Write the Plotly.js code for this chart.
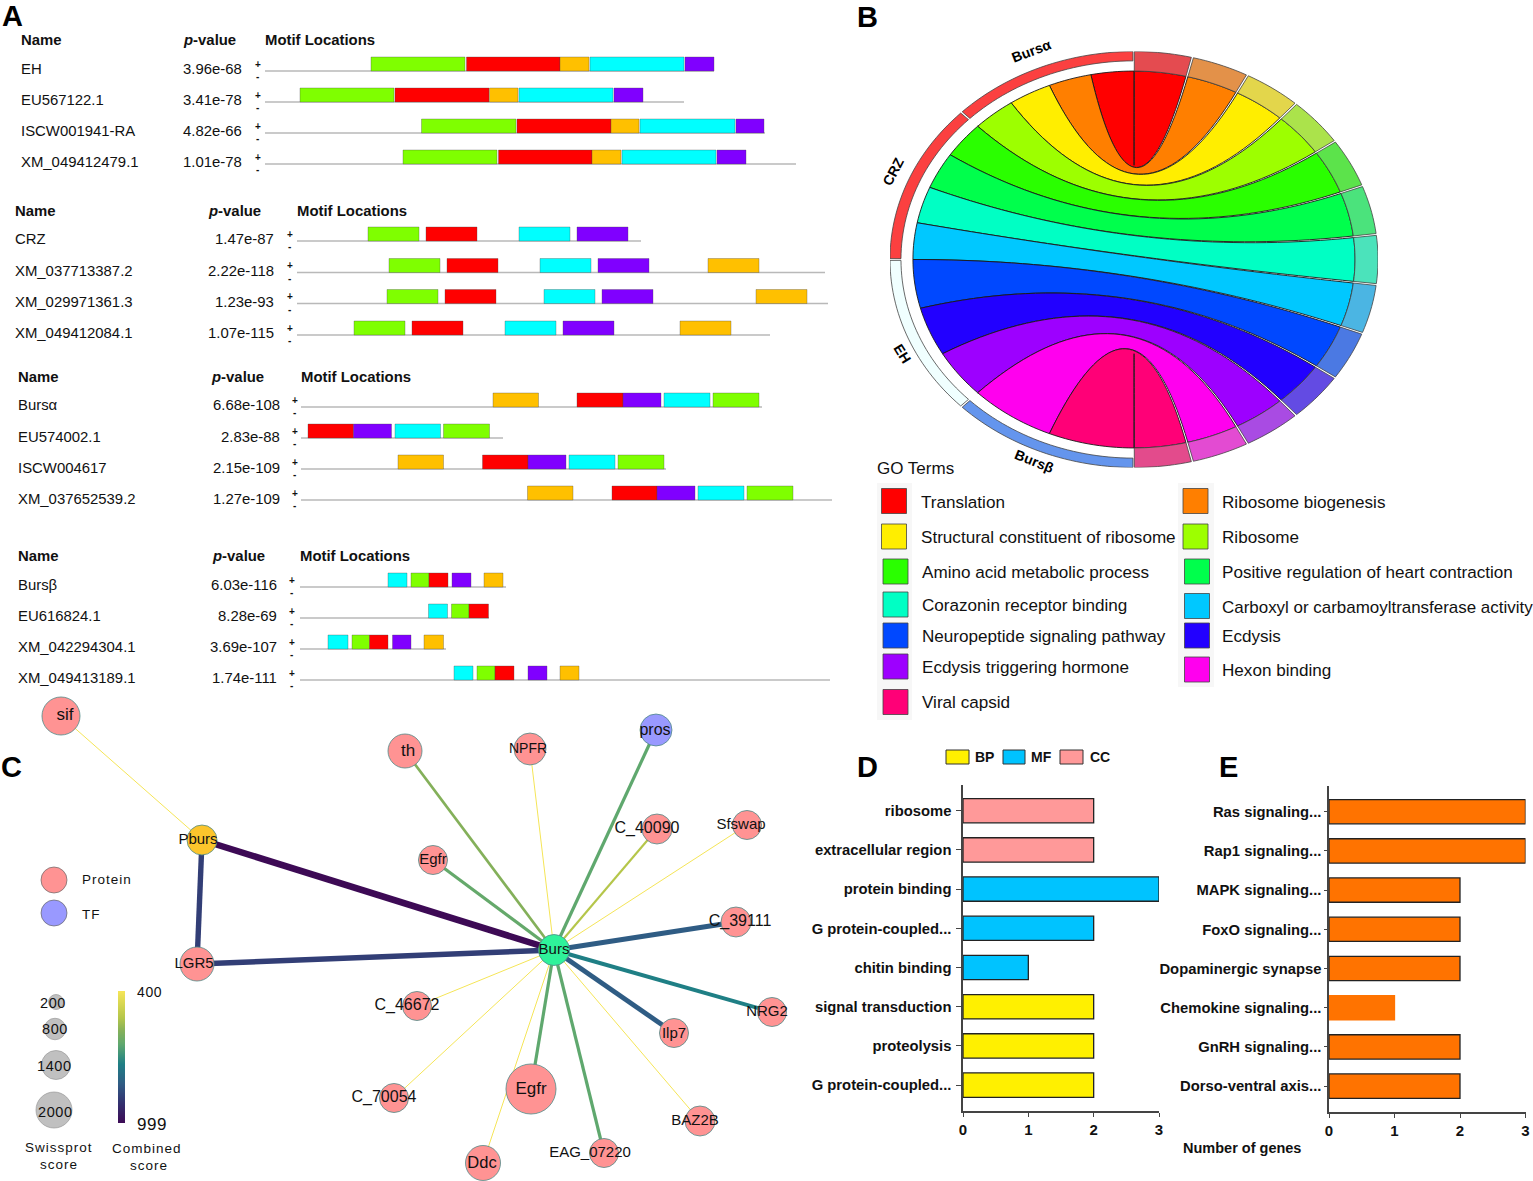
<!DOCTYPE html>
<html><head><meta charset="utf-8">
<script src="https://cdn.plot.ly/plotly-3.0.1.min.js"></script>
<style>html,body{margin:0;padding:0;background:#fff}#chart{width:1533px;height:1181px}</style>
</head><body><div id="chart"></div>
<script>
// ---------- Panel A data ----------
const seqNames=['EH','EU567122.1','ISCW001941-RA','XM_049412479.1','CRZ','XM_037713387.2','XM_029971361.3','XM_049412084.1','Bursα','EU574002.1','ISCW004617','XM_037652539.2','Bursβ','EU616824.1','XM_042294304.1','XM_049413189.1'];
const seqPvalues=['3.96e-68','3.41e-78','4.82e-66','1.01e-78','1.47e-87','2.22e-118','1.23e-93','1.07e-115','6.68e-108','2.83e-88','2.15e-109','1.27e-109','6.03e-116','8.28e-69','3.69e-107','1.74e-111'];
const seqStart=[265,265,265,265,297,297,297,297,301,301,301,301,300,300,300,300];
const seqEnd=[714,684,765,796,641,825,828,770,762,503,666,832,506,489,446,830];
const seqMotifs=[
 [['G',371,465],['R',466.5,560],['O',560,589],['C',590,684],['P',685,714]],
 [['G',300,394],['R',395,489],['O',489.5,518],['C',519,613],['P',614,643]],
 [['G',421.5,516],['R',517,611],['O',611,639],['C',640,735],['P',736,764]],
 [['G',403,497],['R',498.5,592],['O',592,621],['C',622,716],['P',717,746]],
 [['G',368,419],['R',426,477],['C',519,570],['P',577,628]],
 [['G',389,440],['R',447,498],['C',540,591],['P',598,649],['O',708,759]],
 [['G',387,438],['R',445,496],['C',544,595],['P',602,653],['O',756,807]],
 [['G',354,405],['R',412,463],['C',505,556],['P',563,614],['O',680,731]],
 [['O',493,538.5],['R',577,623],['P',623,661],['C',664,710],['G',713,759]],
 [['R',308,353.5],['P',353.5,391.5],['C',395,440.5],['G',443.5,489.5]],
 [['O',398,443.5],['R',482.5,528],['P',528,566],['C',569,615],['G',618,664]],
 [['O',527.5,573],['R',612,657],['P',657,695],['C',698,744],['G',747,793]],
 [['C',388,407],['G',411,429],['R',429,448],['P',452,471],['O',484,503]],
 [['C',428.5,447.5],['G',451.5,469],['R',469,488.5]],
 [['C',328,348],['G',352,369.5],['R',369.5,388],['P',392.5,411],['O',424,443.5]],
 [['C',454,473],['G',477,495],['R',495,514],['P',528,547],['O',560,579]]
];
// ---------- Panel B data ----------
const goTerms=['Translation','Ribosome biogenesis','Structural constituent of ribosome','Ribosome','Amino acid metabolic process','Positive regulation of heart contraction','Corazonin receptor binding','Carboxyl or carbamoyltransferase activity','Neuropeptide signaling pathway','Ecdysis','Ecdysis triggering hormone','Hexon binding','Viral capsid'];
const chordGenes=['Bursα','CRZ','EH','Bursβ'];
const genesTermCount=[4,4,3,2];
// ---------- Panel C data ----------
const nodeNames=['sif','Pburs','LGR5','Burs','th','NPFR','pros','C_40090','Sfswap','Egfr','C_39111','NRG2','Ilp7','BAZ2B','EAG_07220','Egfr','Ddc','C_70054','C_46672'];
const nodeSwissprot=[2170,1480,1825,1570,1825,1650,1650,1480,1400,1400,1480,1400,1400,1480,1400,3200,1910,1400,1400];
const edgeFrom=[0,1,1,2,3,3,3,3,3,3,3,3,3,3,3,3,3,3,3];
const edgeTo=[1,3,2,3,4,5,6,7,8,9,10,11,12,13,14,15,16,17,18];
const edgeScore=[400,999,880,880,580,400,640,520,400,630,820,730,820,400,640,640,400,400,400];
const swissLegend=[200,800,1400,2000];
const scoreScale=[400,450,500,550,600,650,700,750,800,850,900,950,999];
// ---------- Panels D/E data ----------
const goCats=['ribosome','extracellular region','protein binding','G protein-coupled...','chitin binding','signal transduction','proteolysis','G protein-coupled...\u200b'];
const goCounts=[2,2,3,2,1,2,2,2];
const goClass=['CC','CC','MF','MF','MF','BP','BP','BP'];
const keggCats=['Ras signaling...','Rap1 signaling...','MAPK signaling...','FoxO signaling...','Dopaminergic synapse','Chemokine signaling...','GnRH signaling...','Dorso-ventral axis...'];
const keggCounts=[3,3,2,2,2,1,2,2];

// ---------- Layout & style (positions) ----------
const W=1533,H=1181;
const FONT='"Liberation Sans",Arial,sans-serif';
const motifColor={G:'#7fff00',R:'#ff0000',O:'#ffc000',C:'#00ffff',P:'#8000ff'};
const rowBase=[71,102,133,164,241,272.5,303.5,335,407,438,469,500,587,618,649,680];
const rowText=[68.5,100,131,162,239.5,271,302,333,405,436.5,467.5,498.5,584.5,616,647,678];
const groupName=[21,15,18,18], groupPRight=[242,274,280,277], groupSign=[258,290,295,292];
const headerY=[40,211,377,556], headerP=[183,208,211,212], headerM=[265,297,301,300];
const termColors=['#ff0000','#ff7f00','#ffee00','#9dff00','#2aff00','#00ff4c','#00ffc4','#00c8ff','#0048ff','#2200ff','#9d00ff','#ff00ee','#ff0077'];
const ringColors=['#e44b50','#e39149','#e3d64b','#abe34b','#5ce34b','#4be37c','#4be3bb','#4bb5e3','#4b79e3','#634be3','#a94be3','#e34bd2','#e34b8c'];
const geneColors=['#fb4040','#fb4040','#f0ffff','#6495ed'];
const nodeFill=['#ff9393','#fcc52c','#ff9393','#2ff29a','#ff9393','#ff9393','#9999ff','#ff9393','#ff9393','#ff9393','#ff9393','#ff9393','#ff9393','#ff9393','#ff9393','#ff9393','#ff9393','#ff9393','#ff9393'];
const nodeX=[61,202,197,554,405,530,656,657,747,433,736,772,674,700,604,531,483,394,417];
const nodeY=[716,840,964,950,751,749,730,829,825,860,922,1012,1033,1121,1153,1089,1163,1098,1006];
const labelX=[65,198,194,554,408,528,655,647,741,433,740,767,674,695,590,531,482,384,407];
const labelY=[716,840,964,950,752,749,731,829,825,860,922,1012,1034,1121,1153,1090,1164,1098,1006];
const labelSize=[17,15,15,15,17,14,16,16,15,15,16,15,15,15,15,17,16.5,16,16];
const viridisStops=[[0,'#f5e557'],[0.2,'#b5c64a'],[0.3,'#84b05a'],[0.4,'#5fa86e'],[0.55,'#1f7f85'],[0.7,'#2f5c84'],[0.85,'#33306f'],[1,'#3d0a55']];

const px=x=>x/W, py=y=>1-y/H;
const annotations=[];
function note(x,y,text,o){o=o||{};annotations.push({xref:'paper',yref:'paper',x:px(x),y:py(y),text:text,showarrow:false,xanchor:o.a||'left',yanchor:'middle',
 textangle:o.rot||0,font:{family:FONT,size:o.size||14,color:o.color||'#111'},align:o.align||'left',borderpad:0,borderwidth:0});}
const traces=[];
const shapes=[];

// --- panel letters
[['A',12,16],['B',867,17],['C',11,767],['D',867,767],['E',1228,767]].forEach(l=>note(l[1],l[2],'<b>'+l[0]+'</b>',{size:29,a:'center',color:'#000'}));

// --- panel A
const grp=i=>Math.floor(i/4);
traces.push({type:'bar',orientation:'h',xaxis:'x',yaxis:'y',y:rowBase,base:seqStart,x:seqEnd.map((e,i)=>e-seqStart[i]),width:1.4,marker:{color:'#b9b9b9',line:{width:0}},hoverinfo:'skip',showlegend:false});
const mY=[],mB=[],mX=[],mC=[];
seqMotifs.forEach((row,i)=>row.forEach(m=>{mY.push(rowBase[i]-7);mB.push(m[1]);mX.push(m[2]-m[1]);mC.push(motifColor[m[0]]);}));
traces.push({type:'bar',orientation:'h',xaxis:'x',yaxis:'y',y:mY,base:mB,x:mX,width:14,marker:{color:mC,line:{color:'rgba(70,70,70,0.55)',width:0.6}},hoverinfo:'skip',showlegend:false});
seqNames.forEach((n,i)=>{const g=grp(i);
 note(groupName[g],rowText[i],n,{size:14.9});
 note(groupPRight[g],rowText[i],seqPvalues[i],{size:14.9,a:'right'});
 note(groupSign[g]-0.5,rowBase[i]-6.5,'<b>+</b>',{size:10,a:'center'});
 note(groupSign[g]-0.5,rowBase[i]+5.5,'<b>-</b>',{size:10,a:'center'});
});
headerY.forEach((y,g)=>{
 note(groupName[g],y,'<b>Name</b>',{size:14.9});
 note(headerP[g],y,'<b><i>p</i>-value</b>',{size:14.9});
 note(headerM[g],y,'<b>Motif Locations</b>',{size:14.9});
});

// --- panel B : chord diagram on a unit circle
const deg=Math.PI/180;
const pol=(a,r)=>[r*Math.sin(a*deg),r*Math.cos(a*deg)];
function arc(a0,a1,r){const n=Math.max(2,Math.ceil(Math.abs(a1-a0)/1.5)),o=[];for(let i=0;i<=n;i++)o.push(pol(a0+(a1-a0)*i/n,r));return o;}
function bez(p0,p2){const o=[];for(let i=1;i<40;i++){const t=i/40,k=(1-t)*(1-t),m=t*t;o.push([k*p0[0]+m*p2[0],k*p0[1]+m*p2[1]]);}return o;}
function poly(pts,fill,line,lw){traces.push({type:'scatter',mode:'lines',xaxis:'x2',yaxis:'y2',x:pts.map(p=>p[0]).concat([pts[0][0]]),y:pts.map(p=>p[1]).concat([pts[0][1]]),fill:'toself',fillcolor:fill,line:{color:line,width:lw,simplify:false},hoverinfo:'skip',showlegend:false});}
const nT=goTerms.length, rIn=0.906, gap=0.25;
const leftEdge=[0];
genesTermCount.forEach((c,g)=>{for(let i=0;i<c;i++)leftEdge.push(leftEdge[leftEdge.length-1]+45/c);});
goTerms.forEach((t,i)=>{
 const a0=i*180/nT+gap*(i?1:0.3), a1=(i+1)*180/nT-gap*(i<nT-1?1:0.3);
 const b0=-leftEdge[i], b1=-leftEdge[i+1];
 const top=arc(a0,a1,rIn), c1=bez(pol(a1,rIn),pol(b1,rIn)), l=arc(b1,b0,rIn), c2=bez(pol(b0,rIn),pol(a0,rIn));
 poly(top.concat(c1,l,c2),termColors[i],'#1a1a1a',0.9);
 poly(arc(a0,a1,1).concat(arc(a1,a0,rIn)),ringColors[i],'#444',0.8);
});
let ga=0;
chordGenes.forEach((g,i)=>{
 const a0=-(ga+0.25),a1=-(ga+45-0.25);ga+=45;
 poly(arc(a0,a1,1).concat(arc(a1,a0,0.955)),geneColors[i],'#444',0.8);
});
note(1031,51,'<b>Bursα</b>',{size:14,a:'center',rot:-21,color:'#000'});
note(893,172,'<b>CRZ</b>',{size:14,a:'center',rot:-62,color:'#000'});
note(902,353,'<b>EH</b>',{size:14,a:'center',rot:58,color:'#000'});
note(1034,461,'<b>Bursβ</b>',{size:14,a:'center',rot:22,color:'#000'});
note(877,469,'GO Terms',{size:17});
// legend keys
shapes.push({type:'rect',xref:'x',yref:'y',layer:'below',x0:877,x1:912,y0:483,y1:720,fillcolor:'#f7f7f7',line:{width:0}});
shapes.push({type:'rect',xref:'x',yref:'y',layer:'below',x0:1178,x1:1214,y0:483,y1:687,fillcolor:'#f7f7f7',line:{width:0}});
const keyX=[894,1195.5,894,1195.5,895.5,1197,895.5,1197,895.5,1197,895.5,1197,895.5];
const keyY=[501,501,536.5,536.5,571.5,571.5,604.5,606,635.5,635.5,666.5,669.5,702];
const keyTextX=[921,1222,921,1222,922,1222,922,1222,922,1222,922,1222,922];
const keyTextY=[502,502,537,537,572,572,605,607,636,636,667,670,703];
const keyTextSize=[17.1,17.1,17.1,17.1,17.1,17.1,17.1,16.95,17.1,17.1,17.1,17.1,17.1];
traces.push({type:'scatter',mode:'markers',xaxis:'x',yaxis:'y',x:keyX,y:keyY,marker:{symbol:'square',size:25,color:termColors,opacity:1,line:{color:'#444',width:0.8}},hoverinfo:'skip',showlegend:false});
goTerms.forEach((t,i)=>note(keyTextX[i],keyTextY[i],t,{size:keyTextSize[i]}));

// --- panel C
function lerpHex(a,b,t){const p=h=>[1,3,5].map(k=>parseInt(h.substr(k,2),16));const A=p(a),B=p(b);return 'rgb('+A.map((v,i)=>Math.round(v+(B[i]-v)*t)).join(',')+')';}
function scoreColor(s){const t=(s-400)/599;for(let i=1;i<viridisStops.length;i++){if(t<=viridisStops[i][0]){const a=viridisStops[i-1],b=viridisStops[i];return lerpHex(a[1],b[1],(t-a[0])/(b[0]-a[0]));}}return viridisStops[viridisStops.length-1][1];}
edgeScore.forEach((s,i)=>{const a=edgeFrom[i],b=edgeTo[i];
 traces.push({type:'scatter',mode:'lines',xaxis:'x',yaxis:'y',x:[nodeX[a],nodeX[b]],y:[nodeY[a],nodeY[b]],line:{color:scoreColor(s),width:1+5.5*(s-400)/599},hoverinfo:'skip',showlegend:false});
});
const dia=s=>12.7+0.01167*s;
traces.push({type:'scatter',mode:'markers',xaxis:'x',yaxis:'y',x:nodeX,y:nodeY,marker:{size:nodeSwissprot.map(dia),color:nodeFill,opacity:1,line:{color:'#4f8a88',width:0.8}},hoverinfo:'skip',showlegend:false});
traces.push({type:'scatter',mode:'text',xaxis:'x',yaxis:'y',x:labelX,y:labelY,text:nodeNames,textposition:'middle center',textfont:{family:FONT,size:labelSize,color:'#111'},cliponaxis:false,hoverinfo:'skip',showlegend:false});
traces.push({type:'scatter',mode:'markers',xaxis:'x',yaxis:'y',x:[54,54],y:[880,913],marker:{size:26,color:['#ff9393','#9999ff'],opacity:1,line:{color:'#666',width:0.7}},hoverinfo:'skip',showlegend:false});
note(82,879,'Protein',{size:13.5}); note(82,915,'TF',{size:13.5});
const swissX=[56,55,56,54], swissY=[1002,1029,1065,1110], swissTX=[53,55,54,55], swissTY=[1003,1029,1066,1112];
traces.push({type:'scatter',mode:'markers',xaxis:'x',yaxis:'y',x:swissX,y:swissY,marker:{size:[15,21.5,29,36],color:'#c0c0c0',opacity:1,line:{color:'#999',width:0.7}},hoverinfo:'skip',showlegend:false});
swissLegend.forEach((s,i)=>note(swissTX[i]-1,swissTY[i],String(s),{size:14.5,a:'center'}));
note(54.5,1147,'Swissprot',{size:13.5,a:'center'}); note(56.5,1164,'score',{size:13.5,a:'center'});
note(142.5,1148,'Combined',{size:13.5,a:'center'}); note(146.5,1165,'score',{size:13.5,a:'center'});
note(137,992,'400',{size:14}); note(137,1124,'999',{size:17});
traces.push({type:'heatmap',xaxis:'x6',yaxis:'y6',x:[0],y:scoreScale,z:scoreScale.map(v=>[v]),zmin:400,zmax:999,zsmooth:'best',showscale:false,hoverinfo:'skip',
 colorscale:viridisStops});

// --- panels D, E : bars
const classColor={BP:'#fff000',MF:'#00c3ff',CC:'#ff9999'};
traces.push({type:'bar',orientation:'h',xaxis:'x4',yaxis:'y4',y:goCats,x:goCounts,width:0.62,marker:{color:goClass.map(c=>classColor[c]),line:{color:'#222',width:1.3}},hoverinfo:'skip',showlegend:false});
traces.push({type:'bar',orientation:'h',xaxis:'x5',yaxis:'y5',y:keggCats,x:keggCounts,width:0.62,marker:{color:'#ff7300',line:{color:keggCounts.map(v=>v===1?'#ff7300':'#222'),width:1.3}},hoverinfo:'skip',showlegend:false});
[[946,969,'#fff000'],[1003,1025,'#00c3ff'],[1060,1083,'#ff9999']].forEach(s=>shapes.push({type:'rect',xref:'x',yref:'y',x0:s[0],x1:s[1],y0:750,y1:764,fillcolor:s[2],line:{color:'#333',width:1}}));
note(975,757,'<b>BP</b>',{size:14}); note(1031,757,'<b>MF</b>',{size:14}); note(1090,757,'<b>CC</b>',{size:14});
note(1242,1148,'<b>Number of genes</b>',{size:14.5,a:'center'});

const hidden={visible:false,fixedrange:true};
const barX=(d,a)=>({domain:d,range:[0,3],anchor:a,showgrid:false,zeroline:false,showline:true,linecolor:'#444',linewidth:1.6,ticks:'outside',ticklen:4,tickcolor:'#444',tickvals:[0,1,2,3],ticktext:['0','1','2','3'],tickfont:{family:FONT,size:15,color:'#111',weight:700},automargin:false});
const barY=(d,a,cats,len,off)=>({domain:d,type:'category',categoryorder:'array',categoryarray:cats,range:[7.66,-0.656],anchor:a,showgrid:false,zeroline:false,showline:true,linecolor:'#444',linewidth:1.6,ticks:'outside',ticklen:len,ticklabelstandoff:off,tickcolor:'#444',tickfont:{family:FONT,size:14.8,color:'#111',weight:700},automargin:false});
const layout={width:W,height:H,margin:{l:0,r:0,t:0,b:0,pad:0},paper_bgcolor:'#fff',plot_bgcolor:'rgba(0,0,0,0)',barmode:'overlay',showlegend:false,hovermode:false,
 annotations:annotations,shapes:shapes,
 xaxis:Object.assign({domain:[0,1],range:[0,W]},hidden),
 yaxis:Object.assign({domain:[0,1],range:[H,0]},hidden),
 xaxis2:Object.assign({domain:[px(890),px(1378)],range:[-1,1],anchor:'y2'},hidden),
 yaxis2:Object.assign({domain:[py(467.5),py(51.5)],range:[-1,1],anchor:'x2'},hidden),
 xaxis4:barX([px(963),px(1159)],'y4'),
 yaxis4:barY([py(1111),py(785)],'x4',goCats,5,2),
 xaxis5:barX([px(1329),px(1525.5)],'y5'),
 yaxis5:barY([py(1112),py(786)],'x5',keggCats,3,0),
 xaxis6:Object.assign({domain:[px(118),px(125)],range:[-0.5,0.5],anchor:'y6'},hidden),
 yaxis6:Object.assign({domain:[py(1123),py(991)],range:[999,400],anchor:'x6'},hidden)
};
Plotly.newPlot('chart',traces,layout,{displayModeBar:false,staticPlot:true}).then(()=>{
 const wide=['Protein','TF','Swissprot','score','Combined'], narrow=['200','800','1400','2000','400','999'];
 document.querySelectorAll('.annotation-text').forEach(t=>{
  if(wide.includes(t.textContent))t.style.letterSpacing='1px';
  if(narrow.includes(t.textContent))t.style.letterSpacing='0.6px';
 });
});
</script></body></html>
